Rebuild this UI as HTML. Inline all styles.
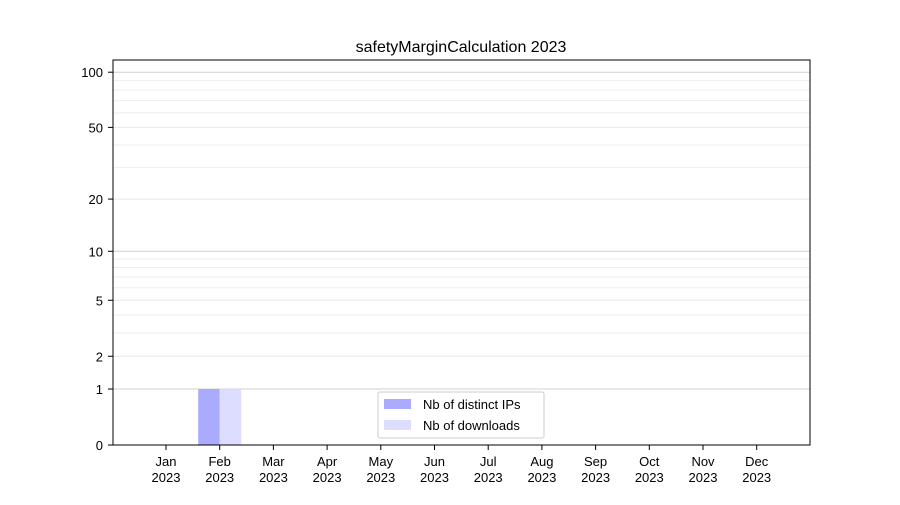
<!DOCTYPE html>
<html><head><meta charset="utf-8"><style>
body{margin:0;background:#fff;font-family:"Liberation Sans","DejaVu Sans",sans-serif;}
</style></head><body>
<svg id="chart" width="900" height="500" xmlns="http://www.w3.org/2000/svg">
<rect width="900" height="500" fill="#fff"/>
<text x="461" y="52" font-size="16" text-anchor="middle">safetyMarginCalculation 2023</text>
<g id="grid"></g>
<g id="bars"></g>
<rect x="113" y="60" width="697" height="385" fill="none" stroke="#000" stroke-width="1"/>
<g id="yticks" font-size="13"></g>
<g id="xticks" font-size="13"></g>
<g>
<rect x="378" y="392" width="166" height="46" fill="#fff" stroke="#ccc" rx="2"/>
<rect x="384" y="399" width="27" height="10" fill="#aaaaff"/>
<text x="423" y="409" font-size="13">Nb of distinct IPs</text>
<rect x="384" y="420" width="27" height="10" fill="#ddddff"/>
<text x="423" y="430" font-size="13">Nb of downloads</text>
</g>
</svg>
<script>
const months = ["Jan","Feb","Mar","Apr","May","Jun","Jul","Aug","Sep","Oct","Nov","Dec"];
const ips = [0,1,0,0,0,0,0,0,0,0,0,0];
const downloads = [0,1,0,0,0,0,0,0,0,0,0,0];
const yTicks = [0,1,2,5,10,20,50,100];
const minorTicks = [3,4,6,7,8,9,30,40,60,70,80,90];
const NS="http://www.w3.org/2000/svg";
function y(v){return 445-186*Math.log10(v+1);}
function x(i){return 166+i*53.7;}
function mk(tag,attrs,parent){const e=document.createElementNS(NS,tag);for(const k in attrs)e.setAttribute(k,attrs[k]);parent.appendChild(e);return e;}
const grid=document.getElementById('grid');
minorTicks.forEach(v=>{
  const l=mk('line',{x1:113,x2:810,y1:y(v),y2:y(v),stroke:'#eee','stroke-width':1},grid);
  
  
});
yTicks.forEach(v=>{
  const major=(v===1||v===10||v===100);
  const l=mk('line',{x1:113,x2:810,y1:y(v),y2:y(v),stroke:major?'#d0d0d0':'#e8e8e8','stroke-width':1},grid);
  
  
});
const yt=document.getElementById('yticks');
yTicks.forEach(v=>{
  mk('line',{x1:108,x2:113,y1:y(v),y2:y(v),stroke:'#000'},yt);
  const t=mk('text',{x:103,y:y(v)+5,'text-anchor':'end'},yt);
  t.textContent=v;
  
  
});
const xt=document.getElementById('xticks');
months.forEach((m,i)=>{
  mk('line',{x1:x(i),x2:x(i),y1:445,y2:450,stroke:'#000'},xt);
  const t=mk('text',{x:x(i),y:466,'text-anchor':'middle'},xt);
  t.textContent=m;
  
  
  const t2=mk('text',{x:x(i),y:482,'text-anchor':'middle'},xt);
  t2.textContent='2023';
  
  
});
const bars=document.getElementById('bars');
const bw=21.5;
months.forEach((m,i)=>{
  if(ips[i]>0){
    const r=mk('rect',{x:x(i)-bw,y:y(ips[i]),width:bw,height:445-y(ips[i]),fill:'#aaaaff'},bars);
    
    
  }
  if(downloads[i]>0){
    const r=mk('rect',{x:x(i),y:y(downloads[i]),width:bw,height:445-y(downloads[i]),fill:'#ddddff'},bars);
    
    
  }
});
</script>
</body></html>
